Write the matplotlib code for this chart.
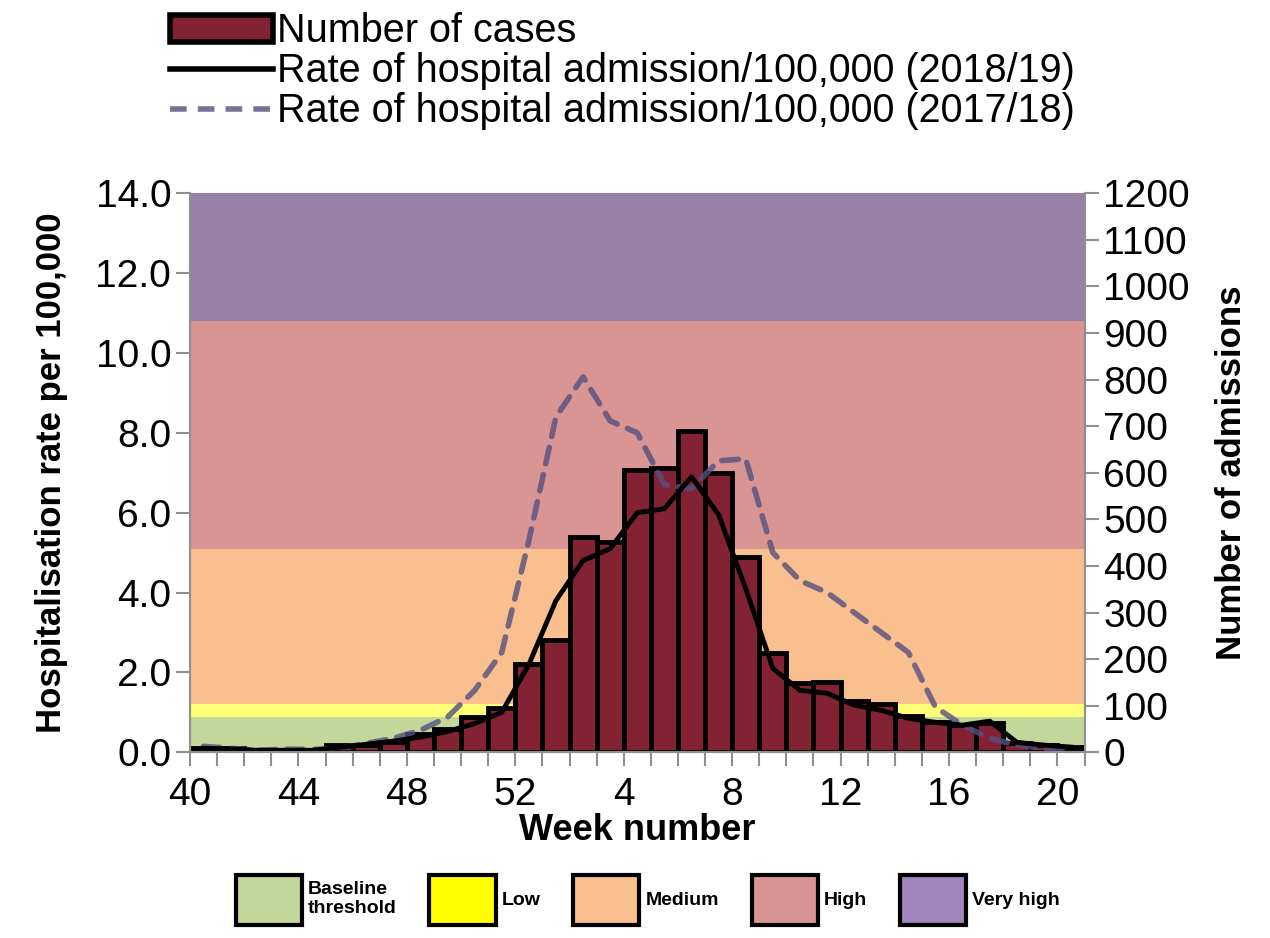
import numpy as np
import matplotlib.pyplot as plt
from matplotlib.patches import Patch
from matplotlib.lines import Line2D
from matplotlib.ticker import FormatStrFormatter

plt.rcParams['font.family'] = ['Liberation Sans', 'DejaVu Sans']

# weeks 40..52 then 1..20
weeks = list(range(40, 53)) + list(range(1, 21))
tick_labels = ['40', '44', '48', '52', '4', '8', '12', '16', '20']

# number of admissions (right axis)
cases = [9, 9, 4, 4, 4, 15, 15, 22, 40, 51, 75, 94, 189, 240, 463, 452, 606,
         610, 690, 600, 420, 213, 148, 151, 111, 103, 77, 64, 58, 62, 19, 15, 11]
# hospitalisation rate per 100,000
rate_1819 = [0.10, 0.08, 0.05, 0.05, 0.05, 0.12, 0.20, 0.28, 0.38, 0.52, 0.72, 1.0,
             2.2, 3.8, 4.8, 5.1, 6.0, 6.1, 6.9, 5.95, 4.1, 2.1, 1.55, 1.48, 1.18,
             1.05, 0.85, 0.75, 0.68, 0.78, 0.25, 0.18, 0.13]
rate_1718 = [0.15, 0.10, 0.05, 0.08, 0.07, 0.10, 0.22, 0.35, 0.55, 0.88, 1.55, 2.5,
             5.3, 8.4, 9.4, 8.3, 8.0, 6.7, 6.6, 7.3, 7.35, 5.0, 4.3, 4.0, 3.5, 3.0,
             2.5, 1.13, 0.68, 0.35, 0.18, 0.10, 0.10]

# activity thresholds (rate per 100,000)
band_edges = [0, 0.88, 1.2, 5.08, 10.8, 14.0]
band_colors = ['#C4D79B', '#FFFF77', '#F9BF8F', '#D99594', '#9581A6']
band_legend_colors = ['#C4D79B', '#FFFF00', '#F9BF8F', '#D99594', '#A084BC']
band_names = ['Baseline\nthreshold', 'Low', 'Medium', 'High', 'Very high']

fig = plt.figure(figsize=(12.7, 9.38), dpi=100)
ax2 = fig.add_axes([0.1496, 0.198, 0.7044, 0.596])
ax = ax2.twinx()
# left axis = rates, right axis = admissions
ax.yaxis.tick_left()
ax.yaxis.set_label_position('left')
ax2.yaxis.tick_right()
ax2.yaxis.set_label_position('right')

x = np.arange(len(weeks)) + 0.5
scale = 1200 / 14
for i in range(5):
    ax2.axhspan(band_edges[i] * scale, band_edges[i + 1] * scale,
                color=band_colors[i], lw=0, zorder=0)

ax2.bar(x, cases, width=1.0, color='#832232', edgecolor='black', linewidth=3.5, zorder=2)
ax2.set_ylim(0, 1200)
ax2.set_yticks(range(0, 1201, 100))

ax.plot(x, rate_1718, color='#55507F', alpha=0.8, lw=4, ls=(0, (3, 2)),
        dash_capstyle='round')
ax.plot(x, rate_1819, color='black', lw=3.5)
ax.set_ylim(0, 14)
ax.set_yticks(np.arange(0, 14.1, 2))
ax.yaxis.set_major_formatter(FormatStrFormatter('%.1f'))
ax2.set_xlim(0, len(weeks))
ax2.set_xticks(np.arange(0, len(weeks) + 1, 1), minor=True)
ax2.set_xticks(np.arange(0, len(weeks) + 1, 4))
ax2.set_xticklabels(tick_labels)

for a in (ax, ax2):
    for s in a.spines.values():
        s.set_color('#909090')
        s.set_linewidth(1.5)
    a.spines['top'].set_visible(False)
    a.tick_params(axis='both', which='both', color='#909090', width=1.5, length=10,
                  labelsize=28)
ax2.tick_params(axis='x', which='both', pad=8)

ax2.set_xlabel('Week number', fontsize=26, fontweight='bold', labelpad=0)
ax.set_ylabel('Hospitalisation rate per 100,000', fontsize=25, fontweight='bold',
              labelpad=20)
ax2.set_ylabel('Number of admissions', fontsize=25, fontweight='bold', labelpad=18)

top_handles = [Patch(facecolor='#832232', edgecolor='black', linewidth=4),
               Line2D([], [], color='black', lw=4),
               Line2D([], [], color='#55507F', alpha=0.8, lw=4, ls=(0, (3, 2)))]
top_labels = ['Number of cases', 'Rate of hospital admission/100,000 (2018/19)',
              'Rate of hospital admission/100,000 (2017/18)']
fig.legend(top_handles, top_labels, loc='upper left', bbox_to_anchor=(0.115, 1.012),
           frameon=False, fontsize=28.5, handlelength=2.6, labelspacing=0.05,
           handletextpad=0.1, borderaxespad=0.2)

bot_handles = [Patch(facecolor=c, edgecolor='black', linewidth=3) for c in band_legend_colors]
fig.legend(bot_handles, band_names, loc='lower center', bbox_to_anchor=(0.51, -0.005),
           ncol=5, frameon=False, prop={'size': 14, 'weight': 'bold'},
           handlelength=3.4, handleheight=3.6, handletextpad=0.3, columnspacing=1.7)

fig.savefig('out.png', dpi=100)
